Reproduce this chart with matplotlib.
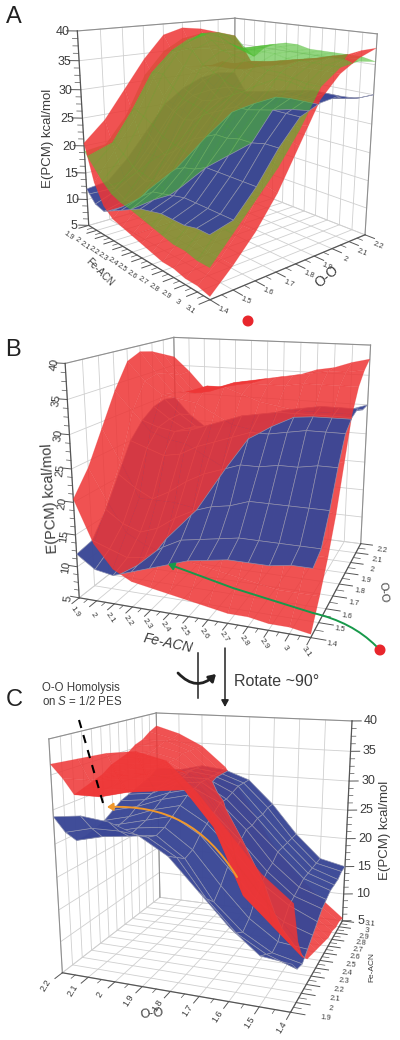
import numpy as np
import matplotlib
matplotlib.use("Agg")
import matplotlib.pyplot as plt
from matplotlib.colors import to_rgba
from matplotlib.patches import Circle, FancyArrowPatch
from matplotlib.path import Path
from mpl_toolkits.mplot3d import proj3d
from mpl_toolkits.mplot3d.art3d import Poly3DCollection

plt.rcParams["font.family"] = ["Liberation Sans", "DejaVu Sans"]
plt.rcParams["mathtext.fontset"] = "custom"
plt.rcParams["mathtext.it"] = "Liberation Sans:italic"

fe_acn = [1.9, 2.0, 2.1, 2.2, 2.3, 2.4, 2.5, 2.6, 2.7, 2.8, 2.9, 3.0, 3.1]
o_o = [1.4, 1.5, 1.6, 1.7, 1.8, 1.9, 2.0, 2.1, 2.2]
energy_ticks = [5, 10, 15, 20, 25, 30, 35, 40]

# one row per O-O value, one column per Fe-ACN value
blue_surface = [
    [12, 10, 9.5, 10.5, 11.5, 12.5, 13.5, 14, 14.5, 14.5, 14.5, 15, 15],
    [12.5, 11.5, 10.5, 11, 13, 14.5, 15, 15.5, 16, 16, 16, 16, 16],
    [16, 14, 13, 14, 16, 17.5, 18.5, 19, 20, 20, 20, 20, 20],
    [20.5, 18.5, 17, 18.5, 20.5, 22, 23, 24, 24, 24.5, 24.5, 25, 25],
    [25, 24, 23, 23.5, 25, 26, 27, 28, 28, 28.5, 29, 29, 29],
    [27.5, 26.5, 26, 26.5, 27.5, 28.5, 29.5, 30, 30.5, 30.5, 30.5, 30.5, 30.5],
    [29, 27, 25.5, 26, 26.5, 27.5, 28.5, 29, 30, 30.5, 31, 31, 31],
    [29.5, 27, 25, 25, 25.5, 26, 27, 27.5, 28, 28.5, 29, 29.5, 30],
    [29, 26, 24, 24, 24.5, 25, 26, 27, 27.5, 28, 28.5, 29, 30],
]
red_surface = [
    [20.5, 14, 10.5, 9, 8.5, 8, 7.5, 7, 6.5, 6.5, 6, 6, 5.5],
    [24, 19, 14.5, 13, 12, 11.5, 11, 10.5, 10, 9.5, 9, 9, 9],
    [29, 24, 18.5, 18.5, 18.5, 18, 16.5, 15, 14.5, 14, 13.5, 13, 13],
    [34, 31, 28, 27, 26.5, 25, 23.5, 22, 21, 20, 19.5, 18.5, 18],
    [38, 35, 33, 32.5, 32, 30.5, 29, 28.5, 27.5, 26.5, 25.5, 25, 24.5],
    [39, 35.5, 32.5, 33, 34, 34, 33, 32, 31.5, 31, 31, 31, 31],
    [38.5, 35, 32, 32, 33, 34, 34, 34, 34, 34.5, 34.5, 34.5, 34.5],
    [37.5, 34, 31, 31.5, 32.5, 33.5, 34, 34.5, 35, 35.5, 36, 36, 36.5],
    [36.5, 34, 31, 31.5, 32, 32.5, 33.5, 34, 34.5, 35.5, 36, 37, 37.7],
]
green_surface = [
    [19, 17, 15, 13.5, 12.8, 12.5, 12, 11.5, 11, 10.5, 10.5, 10, 10],
    [19.5, 20.5, 19, 17.5, 17, 16.5, 16, 15, 14.5, 14, 14, 14, 14],
    [24, 26, 25, 24, 22.5, 22, 21.5, 20.5, 20, 19.5, 19, 18.5, 18],
    [31, 32, 32, 30, 28.5, 28, 27.5, 26.5, 26, 25, 24.5, 23, 22],
    [35, 35.5, 36.5, 36, 34, 33, 32, 31, 30.5, 29.5, 29, 28, 27],
    [37, 37, 38.5, 37.5, 36, 35.5, 35, 34.5, 34, 34, 33.5, 33, 33],
    [37.6, 38, 37.5, 36.5, 36, 36, 36, 36, 35.5, 35.5, 35.5, 35.5, 35.5],
    [37.5, 37, 35, 35, 36, 36.5, 36.5, 36, 36, 36, 36, 36, 36],
    [36.5, 34.5, 33, 35, 36, 36.5, 36.5, 36, 36, 36, 36, 36, 35.5],
]

RED = (to_rgba("#ee3636", 0.86), to_rgba("#ee3636", 0.25))
BLUE = (to_rgba("#3a4796", 0.97), to_rgba("#8f93b0", 0.9))
GREEN = (to_rgba("#4cbc2e", 0.6), to_rgba("#4cbc2e", 0.2))

W, H = 400, 1040
TEXT = "#3c3c3c"
GRID = "#cfcfcf"
FRAME = "#8f8f8f"
AXIS = "#555555"


def tick_text(value):
    return f"{value:g}"


def split_pieces(pieces, a, b):
    # cut the cell outlines along the line where surfaces a and b cross
    out = []
    for poly in pieces:
        above, below = [], []
        n = len(poly)
        for k in range(n):
            p, q = poly[k], poly[(k + 1) % n]
            dp = p[2 + a] - p[2 + b]
            dq = q[2 + a] - q[2 + b]
            if dp >= 0:
                above.append(p)
            if dp <= 0:
                below.append(p)
            if dp * dq < 0:
                c = p + dp / (dp - dq) * (q - p)
                above.append(c)
                below.append(c)
        for part in (above, below):
            if len(part) >= 3:
                out.append(part)
    return out


def add_surfaces(ax, surfaces):
    tables = [np.array(table, float) for table, _ in surfaces]
    layers = [([], [], []) for _ in surfaces]
    for j in range(len(o_o) - 1):
        for i in range(len(fe_acn) - 1):
            corners = [(i, j), (i + 1, j), (i + 1, j + 1), (i, j + 1)]
            poly = [np.array([fe_acn[c], o_o[r]] + [t[r, c] for t in tables]) for c, r in corners]
            pieces = [poly]
            for a in range(len(tables)):
                for b in range(a + 1, len(tables)):
                    pieces = split_pieces(pieces, a, b)
            for piece in pieces:
                arr = np.array(piece)
                # the lowest surface of a piece goes in the first layer, the highest last
                order = np.argsort(arr[:, 2:].mean(axis=0))
                for rank, s in enumerate(order):
                    layers[rank][0].append(arr[:, [0, 1, 2 + s]].tolist())
                    layers[rank][1].append(surfaces[s][1][0])
                    layers[rank][2].append(surfaces[s][1][1])
    for rank, (verts, faces, edges) in enumerate(layers):
        ax.add_collection3d(Poly3DCollection(verts, facecolors=faces, edgecolors=edges,
                                             linewidths=0.5, zorder=3 + rank))


def put_label(fig, ax, xyz, text, shift, rotation, size):
    x2, y2, _ = proj3d.proj_transform(*xyz, ax.get_proj())
    px, py = ax.transData.transform((x2, y2))
    fig.text((px + shift[0]) / W, (py - shift[1]) / H, text, rotation=rotation, color=TEXT,
             fontsize=size, ha="center", va="center")


def draw_box(fig, ax, wall_x, z_corner, z_tick, fe_off, fe_shift, fe_rot, oo_off, oo_shift, oo_rot,
             z_shift, z_rot, sizes):
    wall_y = 2.2
    front_x = 1.9 if wall_x == 3.1 else 3.1
    other_x = front_x

    # grid on the floor and on the two back walls
    for v in fe_acn:
        ax.plot([v, v], [1.4, 2.2], [5, 5], color=GRID, lw=0.6, zorder=1)
        ax.plot([v, v], [wall_y, wall_y], [5, 40], color=GRID, lw=0.6, zorder=1)
    for v in o_o:
        ax.plot([1.9, 3.1], [v, v], [5, 5], color=GRID, lw=0.6, zorder=1)
        ax.plot([wall_x, wall_x], [v, v], [5, 40], color=GRID, lw=0.6, zorder=1)
    for v in energy_ticks:
        ax.plot([1.9, 3.1], [wall_y, wall_y], [v, v], color=GRID, lw=0.6, zorder=1)
        ax.plot([wall_x, wall_x], [1.4, 2.2], [v, v], color=GRID, lw=0.6, zorder=1)

    # frame of the walls and the three axis lines
    ax.plot([1.9, 3.1], [wall_y, wall_y], [40, 40], color=FRAME, lw=0.8, zorder=1)
    ax.plot([wall_x, wall_x], [1.4, 2.2], [40, 40], color=FRAME, lw=0.8, zorder=1)
    ax.plot([wall_x, wall_x], [wall_y, wall_y], [5, 40], color=FRAME, lw=0.8, zorder=1)
    ax.plot([other_x, other_x], [wall_y, wall_y], [5, 40], color=FRAME, lw=0.8, zorder=1)
    zx, zy = z_corner
    ax.plot([zx, zx], [zy, zy], [5, 40], color=AXIS, lw=0.9, zorder=1)
    ax.plot([1.9, 3.1], [1.4, 1.4], [5, 5], color=AXIS, lw=0.9, zorder=1)
    ax.plot([front_x, front_x], [1.4, 2.2], [5, 5], color=AXIS, lw=0.9, zorder=1)

    # Fe-ACN ticks
    for i, v in enumerate(fe_acn):
        ax.plot([v, v], [1.4, 1.4 - 0.045], [5, 5], color=AXIS, lw=0.7, zorder=1)
        if i < len(fe_acn) - 1:
            m = v + 0.05
            ax.plot([m, m], [1.4, 1.4 - 0.025], [5, 5], color=AXIS, lw=0.5, zorder=1)
        put_label(fig, ax, (v, 1.4 - fe_off, 5), tick_text(v), fe_shift, fe_rot, sizes[0])

    # O-O ticks
    sign = 1 if front_x == 3.1 else -1
    for i, v in enumerate(o_o):
        ax.plot([front_x, front_x + sign * 0.07], [v, v], [5, 5], color=AXIS, lw=0.7, zorder=1)
        if i < len(o_o) - 1:
            m = v + 0.05
            ax.plot([front_x, front_x + sign * 0.04], [m, m], [5, 5], color=AXIS, lw=0.5, zorder=1)
        put_label(fig, ax, (front_x + sign * oo_off, v, 5), tick_text(v), oo_shift, oo_rot, sizes[1])

    # energy ticks
    for v in energy_ticks:
        ax.plot([zx, zx + z_tick[0]], [zy, zy + z_tick[1]], [v, v], color=AXIS, lw=0.7, zorder=1)
        if v < 40:
            for m in (v + 1.25, v + 2.5, v + 3.75):
                ax.plot([zx, zx + z_tick[0] * 0.5], [zy, zy + z_tick[1] * 0.5], [m, m],
                        color=AXIS, lw=0.5, zorder=1)
        put_label(fig, ax, (zx, zy, v), tick_text(v), z_shift, z_rot, sizes[2])


def make_panel(fig, pos, az, el, focal, box, surfaces, **box_args):
    left, bottom, w, h = pos
    ax = fig.add_axes([left / W, bottom / H, w / W, h / H], projection="3d")
    ax.set_proj_type("persp", focal_length=focal)
    ax.view_init(elev=el, azim=az)
    ax.set_box_aspect(box)
    ax.set_xlim(1.9, 3.1, view_margin=0)
    ax.set_ylim(1.4, 2.2, view_margin=0)
    ax.set_zlim(5, 40, view_margin=0)
    ax.set_axis_off()
    ax.computed_zorder = False
    ax.patch.set_alpha(0)
    ax.apply_aspect()
    draw_box(fig, ax, **box_args)
    add_surfaces(ax, surfaces)
    return ax


fig = plt.figure(figsize=(W / 100, H / 100), dpi=100)

make_panel(fig, (48.2, 728.4, 343.4, 343.4), -40.18, 15.39, 0.357, (0.997, 0.997, 1),
           [(red_surface, RED), (green_surface, GREEN), (blue_surface, BLUE)],
           wall_x=1.9, z_corner=(1.9, 1.4), z_tick=(-0.045, -0.03),
           fe_off=0, fe_shift=(-20, 10), fe_rot=-35, oo_off=0, oo_shift=(13, 11), oo_rot=-22,
           z_shift=(-15, 1), z_rot=0, sizes=(5.5, 5.5, 9))
make_panel(fig, (36.8, 379.5, 380.3, 380.3), -70.06, 15.63, 0.364, (1.013, 1.031, 1),
           [(red_surface, RED), (blue_surface, BLUE)],
           wall_x=1.9, z_corner=(1.9, 1.4), z_tick=(-0.05, 0),
           fe_off=0, fe_shift=(-4, 14), fe_rot=-55, oo_off=0, oo_shift=(21, 7), oo_rot=-8,
           z_shift=(-11, 1), z_rot=82, sizes=(6, 5.5, 8))
make_panel(fig, (19.7, 4.8, 377.9, 377.9), -159.66, 15.57, 0.375, (1.014, 1.004, 1),
           [(red_surface, RED), (blue_surface, BLUE)],
           wall_x=3.1, z_corner=(3.1, 1.4), z_tick=(0.02, -0.032),
           fe_off=0.11, fe_shift=(0, 0), fe_rot=-5, oo_off=0.15, oo_shift=(0, 0), oo_rot=58,
           z_shift=(19, 0), z_rot=0, sizes=(5.5, 6.5, 9))

# annotations are placed in picture pixels on an overlay
over = fig.add_axes([0, 0, 1, 1], zorder=10)
over.set_xlim(0, W)
over.set_ylim(H, 0)
over.axis("off")

for letter, x, y in [("A", 14, 17), ("B", 13, 350), ("C", 14, 700)]:
    over.text(x, y, letter, fontsize=17, color="#222222", ha="center", va="center")

titles = [
    ("E(PCM) kcal/mol", 48, 138, 90, 9.5, "normal"),
    ("Fe-ACN", 100, 272, -45, 7, "normal"),
    ("O-O", 327, 277, 40, 10, "normal"),
    ("E(PCM) kcal/mol", 50, 498, 93, 10.5, "normal"),
    ("Fe-ACN", 168, 643, -12, 10, "italic"),
    ("O-O", 383, 592, -85, 8, "normal"),
    ("E(PCM) kcal/mol", 385, 830, 90, 9.5, "normal"),
    ("Fe-ACN", 372, 967, 90, 6, "normal"),
    ("O-O", 152, 1014, 5, 9, "normal"),
]
for label, x, y, rot, size, style in titles:
    over.text(x, y, label, rotation=rot, fontsize=size, style=style, color=TEXT,
              ha="center", va="center")

over.add_patch(Circle((248, 321), 4.8, color="#e8262c", zorder=6))
over.add_patch(Circle((380, 650), 4.8, color="#e8262c", zorder=6))

green_path = Path([(376, 646), (352, 622), (313, 613), (233, 588), (168, 564)],
                  [Path.MOVETO, Path.CURVE3, Path.CURVE3, Path.LINETO, Path.LINETO])
over.add_patch(FancyArrowPatch(path=green_path, arrowstyle="-|>,head_length=3.5,head_width=2.2",
                               color="#17994a", lw=1.4, zorder=6))
orange_path = Path([(237, 877), (205, 825), (165, 805), (107, 807)],
                   [Path.MOVETO, Path.CURVE4, Path.CURVE4, Path.CURVE4])
over.add_patch(FancyArrowPatch(path=orange_path, arrowstyle="-|>,head_length=3.5,head_width=2.2",
                               color="#f0982c", lw=1.4, zorder=6))

over.plot([198, 198], [653, 698], color="#222222", lw=1.1)
over.add_patch(FancyArrowPatch((178, 673), (216, 674), connectionstyle="arc3,rad=0.5",
                               arrowstyle="-|>,head_length=4,head_width=2.5", color="#222222", lw=2,
                               shrinkA=0, shrinkB=0))
over.add_patch(FancyArrowPatch((225, 648), (225, 707), arrowstyle="-|>,head_length=4,head_width=2.2",
                               color="#222222", lw=1.1, shrinkA=0, shrinkB=0))
over.text(234, 681, "Rotate ~90°", fontsize=11.5, color=TEXT, ha="left", va="center")
over.text(42, 695, "O-O Homolysis\non $S$ = 1/2 PES", fontsize=8.3, color=TEXT, ha="left", va="center",
          linespacing=1.15)
over.plot([79, 103], [720, 803], color="black", lw=1.5, ls=(0, (4, 3.5)))

fig.savefig("out.png", dpi=100)
